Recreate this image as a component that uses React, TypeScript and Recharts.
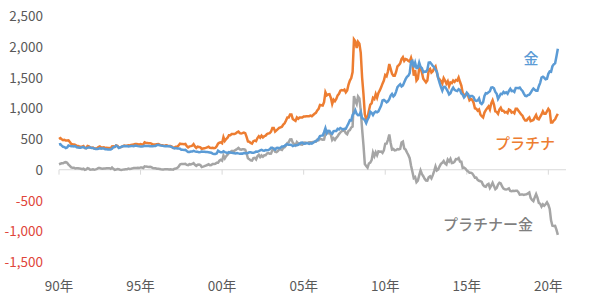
import React from 'react';
import { LineChart, Line, XAxis, YAxis, ReferenceLine } from 'recharts';

// monthly averages, USD/oz, Jan 1990 - Aug 2020
const GOLD = [
  410, 417, 393, 374, 369, 352, 362, 395, 389, 381, 381, 378,
  384, 364, 363, 358, 357, 367, 368, 356, 348, 358, 360, 361,
  354, 354, 345, 338, 337, 341, 353, 343, 345, 344, 335, 334,
  329, 330, 330, 342, 367, 372, 392, 379, 355, 365, 374, 383,
  387, 382, 384, 378, 381, 386, 385, 381, 392, 390, 384, 380,
  379, 377, 382, 391, 385, 387, 386, 383, 383, 383, 386, 387,
  400, 405, 396, 393, 392, 385, 383, 387, 383, 381, 378, 369,
  355, 347, 352, 344, 344, 341, 324, 324, 323, 325, 306, 289,
  289, 297, 296, 308, 299, 292, 293, 284, 289, 296, 294, 291,
  287, 288, 286, 282, 277, 262, 256, 257, 265, 311, 293, 283,
  284, 300, 286, 280, 275, 286, 282, 275, 273, 270, 266, 272,
  266, 262, 263, 261, 272, 270, 268, 273, 283, 283, 276, 275,
  282, 296, 294, 302, 314, 322, 314, 310, 319, 317, 319, 333,
  357, 359, 340, 328, 355, 356, 351, 360, 379, 379, 389, 407,
  414, 405, 406, 404, 384, 392, 398, 400, 406, 420, 439, 442,
  424, 423, 434, 429, 422, 431, 424, 438, 456, 470, 476, 510,
  549, 555, 557, 610, 676, 596, 633, 632, 598, 585, 627, 629,
  631, 665, 655, 679, 667, 655, 665, 665, 712, 754, 806, 803,
  889, 922, 968, 909, 888, 889, 939, 839, 829, 806, 760, 816,
  858, 943, 924, 890, 928, 946, 934, 949, 996, 1043, 1127, 1135,
  1118, 1095, 1113, 1148, 1205, 1232, 1193, 1215, 1271, 1343, 1370, 1391,
  1356, 1372, 1424, 1473, 1510, 1529, 1572, 1756, 1772, 1665, 1739, 1652,
  1656, 1742, 1673, 1650, 1585, 1596, 1594, 1626, 1744, 1747, 1721, 1688,
  1671, 1627, 1593, 1487, 1414, 1343, 1286, 1347, 1349, 1316, 1275, 1225,
  1244, 1300, 1336, 1299, 1287, 1279, 1311, 1296, 1239, 1222, 1176, 1201,
  1251, 1227, 1179, 1198, 1199, 1181, 1129, 1118, 1125, 1159, 1086, 1068,
  1097, 1200, 1246, 1242, 1260, 1276, 1337, 1341, 1326, 1266, 1236, 1152,
  1192, 1234, 1231, 1266, 1246, 1260, 1236, 1283, 1315, 1280, 1283, 1265,
  1331, 1331, 1325, 1335, 1304, 1281, 1238, 1201, 1198, 1215, 1221, 1250,
  1291, 1320, 1300, 1286, 1284, 1359, 1413, 1500, 1511, 1495, 1471, 1480,
  1560, 1597, 1592, 1681, 1715, 1732, 1847, 1968,
];

const PLATINUM = [
  500, 515, 497, 480, 487, 475, 475, 478, 452, 420, 415, 412,
  405, 390, 388, 380, 374, 376, 385, 355, 355, 385, 378, 362,
  357, 360, 345, 345, 352, 370, 380, 362, 362, 365, 355, 358,
  354, 355, 345, 378, 382, 370, 395, 390, 362, 365, 372, 385,
  392, 390, 392, 397, 395, 402, 408, 410, 420, 420, 415, 408,
  417, 412, 410, 445, 436, 436, 432, 432, 425, 411, 412, 411,
  417, 420, 408, 400, 397, 390, 393, 397, 390, 385, 385, 375,
  357, 363, 373, 375, 394, 425, 418, 418, 415, 420, 385, 365,
  380, 384, 390, 416, 380, 355, 375, 370, 365, 340, 345, 350,
  355, 365, 375, 357, 355, 357, 350, 355, 380, 425, 440, 445,
  430, 530, 470, 500, 520, 560, 560, 580, 580, 580, 590, 610,
  620, 595, 590, 595, 605, 595, 535, 460, 455, 435, 425, 465,
  475, 465, 515, 545, 520, 555, 525, 545, 555, 580, 590, 595,
  620, 680, 680, 620, 640, 660, 680, 690, 700, 735, 755, 800,
  850, 850, 900, 900, 825, 810, 795, 850, 830, 850, 850, 850,
  865, 865, 870, 870, 870, 880, 870, 890, 910, 925, 965, 990,
  1055, 1050, 1045, 1100, 1260, 1210, 1225, 1230, 1170, 1070, 1140, 1115,
  1150, 1210, 1235, 1285, 1295, 1290, 1305, 1260, 1290, 1385, 1450, 1490,
  1590, 2120, 2090, 1980, 2080, 2050, 1900, 1500, 1230, 900, 820, 850,
  960, 1060, 1080, 1170, 1150, 1230, 1170, 1250, 1290, 1340, 1400, 1450,
  1540, 1520, 1600, 1720, 1640, 1560, 1530, 1530, 1590, 1680, 1700, 1730,
  1800, 1830, 1770, 1800, 1790, 1770, 1760, 1820, 1740, 1530, 1620, 1450,
  1480, 1650, 1660, 1580, 1480, 1450, 1420, 1450, 1620, 1640, 1580, 1600,
  1650, 1680, 1580, 1490, 1470, 1440, 1400, 1490, 1450, 1400, 1440, 1360,
  1420, 1410, 1450, 1430, 1460, 1450, 1500, 1430, 1370, 1250, 1210, 1220,
  1240, 1200, 1130, 1150, 1140, 1090, 1000, 990, 960, 980, 900, 870,
  850, 930, 970, 1000, 1030, 980, 1080, 1130, 1060, 950, 940, 910,
  980, 1010, 960, 960, 930, 940, 920, 980, 970, 930, 940, 920,
  990, 990, 960, 930, 900, 880, 830, 800, 800, 830, 850, 790,
  800, 810, 850, 890, 830, 820, 860, 900, 950, 910, 910, 950,
  990, 960, 770, 770, 800, 820, 870, 910,
];

const START_YEAR = 1990;
const YEAR_TICKS = [1990, 1995, 2000, 2005, 2010, 2015, 2020];
const YEAR_LABELS = ['90年', '95年', '00年', '05年', '10年', '15年', '20年'];
const Y_TICKS = [-1500, -1000, -500, 0, 500, 1000, 1500, 2000, 2500];

// spread = platinum minus gold, as in the chart's gray line
const data = GOLD.map((g, i) => ({
  t: START_YEAR + i / 12,
  gold: g,
  platinum: PLATINUM[i],
  spread: PLATINUM[i] - g,
}));

const FONT = '"Noto Sans CJK JP", "Noto Sans", sans-serif';

const YTick = (props: any) => {
  const { x, y, payload } = props;
  const v = payload.value as number;
  return (
    <text x={x - 16} y={y - 1} textAnchor="end" dominantBaseline="central"
      fontSize={13.5} fontFamily={FONT} fill={v < 0 ? '#e0453a' : '#595959'}>
      {v.toLocaleString('en-US')}
    </text>
  );
};

const XTick = (props: any) => {
  const { x, y, payload } = props;
  const idx = YEAR_TICKS.indexOf(Math.round(payload.value));
  return (
    <text x={x} y={y + 23} textAnchor="middle" dominantBaseline="central"
      fontSize={13.5} fontFamily={FONT} fill="#595959">
      {YEAR_LABELS[idx]}
    </text>
  );
};

const labelStyle: React.CSSProperties = {
  position: 'absolute',
  fontFamily: FONT,
  fontSize: 15,
  lineHeight: '15px',
  fontWeight: 500,
  whiteSpace: 'nowrap',
  transform: 'translate(-50%, -50%)',
};

export default function App() {
  return (
    <div style={{ position: 'absolute', left: 0, top: 0, width: 600, height: 299, background: '#fff' }}>
      <LineChart width={600} height={299} data={data}
        margin={{ top: 16, right: 34, left: 0, bottom: 7 }}>
        <XAxis dataKey="t" type="number" domain={[1990, 2021 + 1 / 12]}
          ticks={YEAR_TICKS} axisLine={false} tickLine={false}
          tickSize={0} tickMargin={0} height={30} tick={XTick} interval={0} />
        <YAxis type="number" domain={[-1500, 2500]} ticks={Y_TICKS}
          axisLine={false} tickLine={false} tickSize={0} tickMargin={0}
          width={59} tick={YTick} interval={0} />
        <ReferenceLine y={0} stroke="#d9d9d9" strokeWidth={1} />
        {YEAR_TICKS.map((yr) => (
          <ReferenceLine key={yr} segment={[{ x: yr, y: 0 }, { x: yr, y: -80 }]}
            stroke="#d9d9d9" strokeWidth={1} />
        ))}
        <Line dataKey="spread" stroke="#a5a5a5" strokeWidth={2.5} dot={false}
          activeDot={false} isAnimationActive={false} type="linear" />
        <Line dataKey="platinum" stroke="#ed7d31" strokeWidth={2.5} dot={false}
          activeDot={false} isAnimationActive={false} type="linear" />
        <Line dataKey="gold" stroke="#5b9bd5" strokeWidth={2.5} dot={false}
          activeDot={false} isAnimationActive={false} type="linear" />
      </LineChart>
      <div style={{ ...labelStyle, left: 531, top: 57, color: '#5b9bd5' }}>金</div>
      <div style={{ ...labelStyle, left: 525, top: 142, color: '#ed7d31' }}>プラチナ</div>
      <div style={{ ...labelStyle, left: 488, top: 223, color: '#7f7f7f' }}>プラチナー金</div>
    </div>
  );
}
